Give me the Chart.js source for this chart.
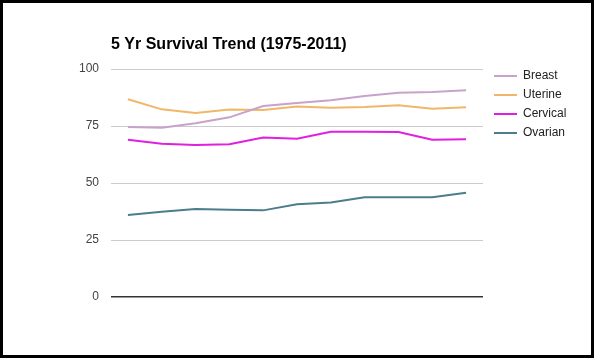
<!DOCTYPE html>
<html>
<head>
<meta charset="utf-8">
<script src="https://cdn.jsdelivr.net/npm/chart.js@4"></script>
<style>
  html, body { margin: 0; padding: 0; background: #fff; }
  #wrap { width: 594px; height: 358px; box-sizing: border-box; border: 3px solid #000; background: #fff; }
  #wrap canvas { display: block; }
</style>
</head>
<body>
<div id="wrap"><canvas id="myChart" width="588" height="352"></canvas></div>
<script>
// 11 periods between 1975 and 2011 (x labels are not shown on the chart)
var periods = ['1975', '1978', '1981', '1984', '1987', '1990', '1993', '1996', '1999', '2002', '2005'];
var breast   = [74.6, 74.2, 76.2, 78.8, 83.8, 85.1, 86.3, 88.2, 89.6, 89.9, 90.7];
var uterine  = [86.7, 82.3, 80.7, 82.2, 82.0, 83.6, 83.0, 83.3, 84.1, 82.6, 83.2];
var cervical = [69.0, 67.2, 66.7, 67.0, 70.0, 69.4, 72.5, 72.5, 72.4, 69.0, 69.2];
var ovarian  = [36.0, 37.4, 38.6, 38.3, 38.0, 40.7, 41.5, 43.7, 43.7, 43.7, 45.7];
var yTicks = [0, 25, 50, 75, 100];

var titleText = '5 Yr Survival Trend (1975-2011)';

// title + legend drawn by hand so they line up with the plot like the original
var decor = {
    id: 'decor',
    afterDraw: function (chart) {
        var c = chart.ctx;
        var area = chart.chartArea;
        c.save();
        c.fillStyle = '#000';
        c.font = 'bold 16px "Liberation Sans", Arial, sans-serif';
        c.textBaseline = 'middle';
        c.textAlign = 'left';
        c.fillText(titleText, area.left, 42);

        c.font = '12px "Liberation Sans", Arial, sans-serif';
        chart.data.datasets.forEach(function (ds, i) {
            var y = 73 + i * 19;
            c.strokeStyle = ds.borderColor;
            c.lineWidth = 2;
            c.beginPath();
            c.moveTo(491, y);
            c.lineTo(514, y);
            c.stroke();
            c.fillStyle = '#222';
            c.fillText(ds.label, 520, y);
        });
        c.restore();
    }
};

var ctx = document.getElementById('myChart').getContext('2d');
var myChart = new Chart(ctx, {
    type: 'line',
    data: {
        labels: periods,
        datasets: [
            { label: 'Breast',   data: breast,   borderColor: '#c9a2c9', borderWidth: 2 },
            { label: 'Uterine',  data: uterine,  borderColor: '#f0b768', borderWidth: 2 },
            { label: 'Cervical', data: cervical, borderColor: '#e01fe0', borderWidth: 2 },
            { label: 'Ovarian',  data: ovarian,  borderColor: '#4b7d8b', borderWidth: 2 }
        ]
    },
    options: {
        responsive: false,
        animation: false,
        elements: {
            point: { radius: 0 },
            line: { tension: 0 }
        },
        layout: {
            padding: { left: 70, right: 108, top: 66, bottom: 58 }
        },
        plugins: {
            legend: { display: false },
            title: { display: false },
            tooltip: { enabled: false }
        },
        scales: {
            x: {
                display: false,
                offset: true
            },
            y: {
                min: 0,
                max: 100,
                afterFit: function (scale) { scale.width = 38; },
                afterBuildTicks: function (scale) {
                    scale.ticks = yTicks.map(function (v) { return { value: v }; });
                },
                border: { display: false },
                grid: {
                    drawTicks: false,
                    color: function (c) { return c.tick.value === 0 ? '#333' : '#ccc'; },
                    lineWidth: function (c) { return c.tick.value === 0 ? 1.5 : 1; }
                },
                ticks: {
                    padding: 12,
                    color: '#444',
                    font: { family: '"Liberation Sans", Arial, sans-serif', size: 12 }
                }
            }
        }
    },
    plugins: [decor]
});
</script>
</body>
</html>
